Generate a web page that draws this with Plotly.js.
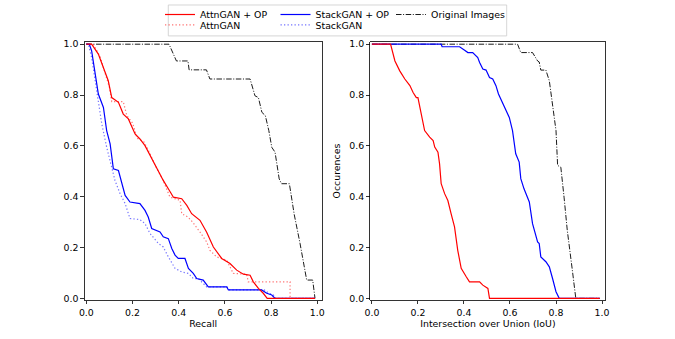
<!DOCTYPE html>
<html>
<head>
<meta charset="utf-8">
<script src="https://cdn.plot.ly/plotly-3.0.1.min.js"></script>
<style>
  html, body { margin: 0; padding: 0; background: #fff; }
  #chart { width: 675px; height: 339px; }
</style>
</head>
<body>
<div id="chart"></div>
<script>
// left panel: precision over recall
const recallAttnOpX = [0, 0.023, 0.052, 0.074, 0.095, 0.11, 0.139, 0.16, 0.182, 0.211, 0.232, 0.254, 0.276, 0.305, 0.333, 0.355, 0.377, 0.413, 0.435, 0.456, 0.492, 0.521, 0.55, 0.586, 0.622, 0.651, 0.68, 0.709, 0.723, 0.745, 0.766, 0.783, 0.99];
const recallAttnOpY = [1.0, 1.0, 0.961, 0.908, 0.856, 0.79, 0.771, 0.725, 0.706, 0.647, 0.627, 0.601, 0.562, 0.51, 0.464, 0.431, 0.398, 0.392, 0.366, 0.333, 0.307, 0.26, 0.202, 0.157, 0.137, 0.111, 0.095, 0.091, 0.065, 0.039, 0.02, 0, 0];

const recallAttnX = [0, 0.03, 0.06, 0.08, 0.1, 0.11, 0.16, 0.175, 0.2, 0.22, 0.25, 0.27, 0.3, 0.33, 0.362, 0.406, 0.413, 0.44, 0.46, 0.492, 0.521, 0.535, 0.564, 0.608, 0.636, 0.694, 0.701, 0.882, 0.882, 0.99];
const recallAttnY = [1.0, 1.0, 0.95, 0.89, 0.83, 0.774, 0.774, 0.72, 0.69, 0.63, 0.615, 0.58, 0.52, 0.47, 0.398, 0.386, 0.333, 0.32, 0.3, 0.261, 0.222, 0.189, 0.163, 0.15, 0.098, 0.095, 0.065, 0.065, 0, 0];

const recallStackOpX = [0, 0.013, 0.023, 0.038, 0.052, 0.074, 0.088, 0.103, 0.117, 0.139, 0.153, 0.168, 0.189, 0.232, 0.254, 0.268, 0.283, 0.319, 0.333, 0.355, 0.37, 0.384, 0.398, 0.427, 0.442, 0.463, 0.478, 0.506, 0.528, 0.608, 0.615, 0.759, 0.781, 0.803, 0.817, 0.99];
const recallStackOpY = [1.0, 1.0, 0.974, 0.882, 0.804, 0.751, 0.66, 0.608, 0.51, 0.503, 0.451, 0.405, 0.379, 0.373, 0.346, 0.32, 0.275, 0.261, 0.242, 0.235, 0.196, 0.17, 0.157, 0.157, 0.118, 0.098, 0.078, 0.072, 0.045, 0.045, 0.033, 0.033, 0.02, 0.013, 0, 0];

const recallStackX = [0, 0.009, 0.023, 0.038, 0.052, 0.067, 0.088, 0.103, 0.124, 0.146, 0.168, 0.189, 0.232, 0.254, 0.276, 0.312, 0.333, 0.355, 0.384, 0.413, 0.442, 0.463, 0.485, 0.521, 0.608, 0.62, 0.77, 0.79, 0.81, 0.82, 0.99];
const recallStackY = [1.0, 1.0, 0.947, 0.856, 0.778, 0.686, 0.595, 0.542, 0.464, 0.412, 0.373, 0.314, 0.31, 0.294, 0.255, 0.216, 0.202, 0.163, 0.118, 0.104, 0.098, 0.078, 0.078, 0.045, 0.045, 0.033, 0.033, 0.02, 0.013, 0, 0];

const recallOrigX = [0, 0.358, 0.39, 0.44, 0.445, 0.52, 0.535, 0.709, 0.73, 0.745, 0.76, 0.775, 0.79, 0.803, 0.817, 0.828, 0.835, 0.845, 0.879, 0.9, 0.911, 0.925, 0.954, 0.98, 0.99];
const recallOrigY = [1.0, 1.0, 0.934, 0.934, 0.899, 0.899, 0.863, 0.863, 0.797, 0.79, 0.732, 0.719, 0.66, 0.594, 0.575, 0.516, 0.47, 0.451, 0.451, 0.33, 0.281, 0.217, 0.072, 0.072, 0];

// right panel: occurences over IoU
const iouAttnOpX = [0, 0.081, 0.1, 0.121, 0.143, 0.165, 0.179, 0.193, 0.2, 0.214, 0.229, 0.251, 0.266, 0.273, 0.287, 0.294, 0.301, 0.316, 0.33, 0.344, 0.359, 0.373, 0.388, 0.41, 0.424, 0.468, 0.482, 0.504, 0.511, 0.99];
const iouAttnOpY = [1, 1, 0.934, 0.895, 0.863, 0.837, 0.81, 0.79, 0.79, 0.725, 0.66, 0.634, 0.621, 0.595, 0.575, 0.529, 0.451, 0.412, 0.385, 0.333, 0.281, 0.189, 0.118, 0.085, 0.065, 0.065, 0.052, 0.039, 0, 0];

const iouStackOpX = [0, 0.301, 0.305, 0.381, 0.403, 0.417, 0.438, 0.46, 0.468, 0.482, 0.496, 0.511, 0.525, 0.539, 0.55, 0.568, 0.582, 0.597, 0.611, 0.625, 0.64, 0.647, 0.661, 0.684, 0.698, 0.72, 0.727, 0.734, 0.756, 0.771, 0.785, 0.8, 0.814, 0.99];
const iouStackOpY = [1, 1, 0.99, 0.99, 0.976, 0.967, 0.967, 0.947, 0.928, 0.902, 0.898, 0.869, 0.863, 0.837, 0.804, 0.771, 0.745, 0.712, 0.66, 0.569, 0.536, 0.471, 0.431, 0.379, 0.294, 0.222, 0.216, 0.163, 0.144, 0.124, 0.078, 0.026, 0, 0];

const iouOrigX = [0, 0.633, 0.647, 0.698, 0.72, 0.727, 0.734, 0.756, 0.771, 0.785, 0.8, 0.807, 0.821, 0.835, 0.849, 0.871, 0.886, 0.99];
const iouOrigY = [1, 1, 0.967, 0.967, 0.934, 0.93, 0.898, 0.898, 0.856, 0.765, 0.66, 0.523, 0.516, 0.398, 0.268, 0.111, 0, 0];

const tickVals = [0, 0.2, 0.4, 0.6, 0.8, 1.0];

const FONT = 'DejaVu Sans, sans-serif';
const FS = 9.4;
const solidRed = {color: '#ff0000', width: 1.2};
const dotRed = {color: 'rgba(255,0,0,0.55)', width: 1.2, dash: '1.3px,2.2px'};
const solidBlue = {color: '#0000ff', width: 1.2};
const dotBlue = {color: 'rgba(0,0,255,0.55)', width: 1.2, dash: '1.3px,2.2px'};
const dashDotBlack = {color: '#000000', width: 0.9, dash: '5.5px,1.6px,1px,1.6px'};

function line(x, y, name, style, xa, ya, legendId, show) {
    return {
        x: x, y: y, name: name, type: 'scatter', mode: 'lines',
        line: style, xaxis: xa, yaxis: ya,
        legend: legendId, showlegend: show, hoverinfo: 'skip'
    };
}

let data = [
    line(recallOrigX, recallOrigY, 'Original Images', dashDotBlack, 'x', 'y', 'legend', true),
    line(recallAttnX, recallAttnY, 'AttnGAN', dotRed, 'x', 'y', 'legend2', true),
    line(recallStackX, recallStackY, 'StackGAN', dotBlue, 'x', 'y', 'legend2', true),
    line(recallStackOpX, recallStackOpY, 'StackGAN + OP', solidBlue, 'x', 'y', 'legend', true),
    line(recallAttnOpX, recallAttnOpY, 'AttnGAN + OP', solidRed, 'x', 'y', 'legend', true),
    line(iouOrigX, iouOrigY, 'Original Images', dashDotBlack, 'x2', 'y2', 'legend', false),
    line(iouStackOpX, iouStackOpY, 'StackGAN + OP', solidBlue, 'x2', 'y2', 'legend', false),
    line(iouAttnOpX, iouAttnOpY, 'AttnGAN + OP', solidRed, 'x2', 'y2', 'legend', false)
];
// legend order: column-wise like the original
data[4].legendrank = 1; data[3].legendrank = 2; data[0].legendrank = 3;
data[1].legendrank = 1; data[2].legendrank = 2;

function axis(extra) {
    return Object.assign({
        showgrid: false, zeroline: false,
        showline: true, mirror: true, linecolor: '#000', linewidth: 0.8,
        ticks: 'outside', ticklen: 3.5, tickwidth: 0.8, tickcolor: '#000',
        tickvals: tickVals, tickformat: '.1f',
        tickfont: {family: FONT, size: FS, color: '#000'},
        automargin: false
    }, extra);
}

const legendBase = {
    orientation: 'h', xanchor: 'left', yanchor: 'top',
    bgcolor: 'rgba(0,0,0,0)', borderwidth: 0,
    entrywidth: 70.5, entrywidthmode: 'pixels',
    font: {family: FONT, size: FS, color: '#000'},
    traceorder: 'normal'
};

let layout = {
    width: 675, height: 339,
    margin: {l: 0, r: 0, t: 0, b: 0},
    paper_bgcolor: '#fff', plot_bgcolor: '#fff',
    font: {family: FONT, size: FS, color: '#000'},
    xaxis: axis({domain: [0.1255, 0.4766], range: [-0.007, 1.019], anchor: 'y',
        title: {text: 'Recall', font: {family: FONT, size: FS}, standoff: 3}}),
    yaxis: axis({domain: [0.115, 0.879], range: [-0.007, 1.009], anchor: 'x'}),
    xaxis2: axis({domain: [0.5486, 0.897], range: [-0.007, 1.015], anchor: 'y2',
        title: {text: 'Intersection over Union (IoU)', font: {family: FONT, size: FS}, standoff: 3}}),
    yaxis2: axis({domain: [0.115, 0.879], range: [-0.007, 1.009], anchor: 'x2',
        title: {text: 'Occurences', font: {family: FONT, size: FS}, standoff: 6}}),
    legend: Object.assign({}, legendBase, {x: 160 / 675, y: 1.003}),
    legend2: Object.assign({}, legendBase, {x: 160 / 675, y: 0.9693}),
    shapes: [{
        type: 'rect', xref: 'paper', yref: 'paper', layer: 'below',
        x0: 168.3 / 675, x1: 506.7 / 675, y0: 1 - 35 / 339, y1: 1 - 4 / 339,
        line: {color: '#cccccc', width: 0.8}, fillcolor: '#ffffff'
    }],
    showlegend: true
};

Plotly.newPlot('chart', data, layout, {staticPlot: true, displayModeBar: false});
</script>
</body>
</html>
